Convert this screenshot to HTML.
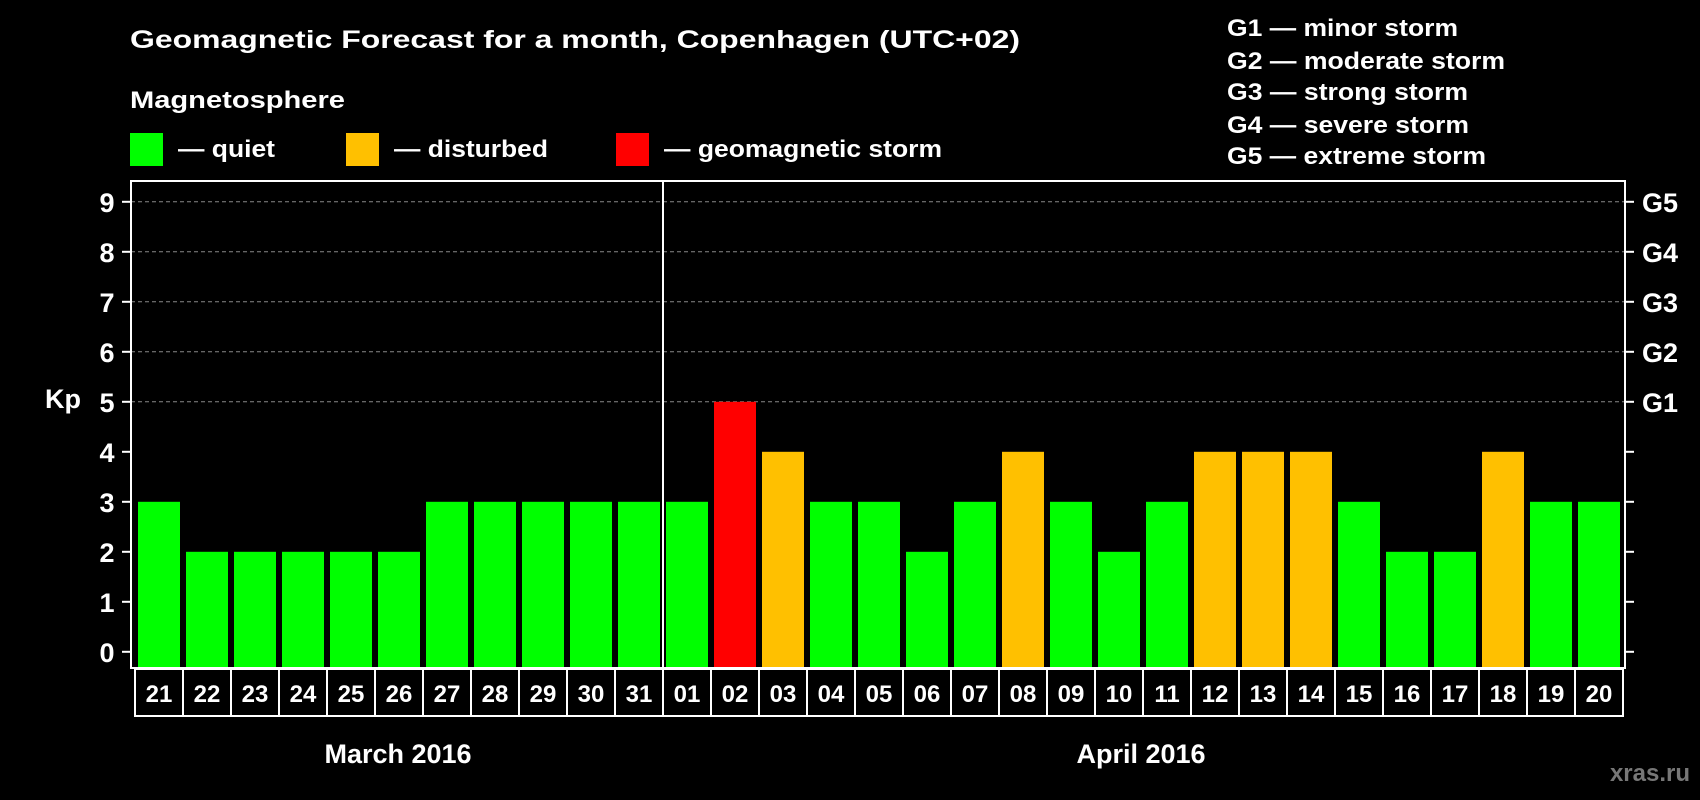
<!DOCTYPE html>
<html><head><meta charset="utf-8"><style>
html,body{margin:0;padding:0;background:#000;}
svg{display:block;font-family:"Liberation Sans",Arial,sans-serif;font-weight:bold;}
</style></head><body>
<svg id="chart" width="1700" height="800" viewBox="0 0 1700 800" xmlns="http://www.w3.org/2000/svg">
<rect x="0" y="0" width="1700" height="800" fill="#000"/>
<text x="130" y="48" fill="#fff" font-size="25" textLength="890" lengthAdjust="spacingAndGlyphs">Geomagnetic Forecast for a month, Copenhagen (UTC+02)</text>
<text x="130" y="108" fill="#fff" font-size="24" textLength="215" lengthAdjust="spacingAndGlyphs">Magnetosphere</text>
<g>
<rect x="130" y="133" width="33" height="33" fill="#00ff00"/>
<text x="178" y="157" fill="#fff" font-size="24" textLength="97" lengthAdjust="spacingAndGlyphs">— quiet</text></g>
<g>
<rect x="346" y="133" width="33" height="33" fill="#ffc000"/>
<text x="394" y="157" fill="#fff" font-size="24" textLength="154" lengthAdjust="spacingAndGlyphs">— disturbed</text></g>
<g>
<rect x="616" y="133" width="33" height="33" fill="#ff0000"/>
<text x="664" y="157" fill="#fff" font-size="24" textLength="278" lengthAdjust="spacingAndGlyphs">— geomagnetic storm</text></g>
<g fill="#fff" font-size="24">
<text x="1227" y="36" textLength="231" lengthAdjust="spacingAndGlyphs">G1 — minor storm</text>
<text x="1227" y="69" textLength="278" lengthAdjust="spacingAndGlyphs">G2 — moderate storm</text>
<text x="1227" y="100" textLength="241" lengthAdjust="spacingAndGlyphs">G3 — strong storm</text>
<text x="1227" y="133" textLength="242" lengthAdjust="spacingAndGlyphs">G4 — severe storm</text>
<text x="1227" y="164" textLength="259" lengthAdjust="spacingAndGlyphs">G5 — extreme storm</text>
</g>
<text x="63" y="408" fill="#fff" font-size="27" text-anchor="middle">Kp</text>
<g id="grid"></g><g id="bars"></g><g id="axes"></g>
<text x="398" y="763" fill="#fff" font-size="27" text-anchor="middle">March 2016</text>
<text x="1141" y="763" fill="#fff" font-size="27" text-anchor="middle">April 2016</text>
<text x="1690" y="781" fill="#777" font-size="24" text-anchor="end">xras.ru</text>
</svg>
<script>
const days = ["21","22","23","24","25","26","27","28","29","30","31","01","02","03","04","05","06","07","08","09","10","11","12","13","14","15","16","17","18","19","20"];
const kpValues = [3,2,2,2,2,2,3,3,3,3,3,3,5,4,3,3,2,3,4,3,2,3,4,4,4,3,2,2,4,3,3];
const yTicks = [0,1,2,3,4,5,6,7,8,9];
const gLabels = ["G1","G2","G3","G4","G5"];
const gLevels = [5,6,7,8,9];
const monthSplitIndex = 11;

const NS = "http://www.w3.org/2000/svg";
const boxL = 131, boxR = 1625, boxT = 181, boxB = 668;
const y0 = 651.8, unit = 50;
const pitch = 48, barStart = 138, barW = 42;
function yScale(v){ return y0 - v*unit; }
function xScale(i){ return barStart + i*pitch; }
function mk(tag, attrs, parent){
  const e = document.createElementNS(NS, tag);
  for (const k in attrs) e.setAttribute(k, attrs[k]);
  parent.appendChild(e); return e;
}
const grid = document.getElementById('grid');
const bars = document.getElementById('bars');
const axes = document.getElementById('axes');

gLevels.forEach((lv, i) => {
  const l = mk('line', {x1: boxL, x2: boxR, y1: yScale(lv), y2: yScale(lv), stroke: '#888', 'stroke-width': 1, 'stroke-dasharray': '4,3'}, grid);
  
  
  const t = mk('text', {x: 1642, y: yScale(lv) + 10, fill: '#fff', 'font-size': 27}, axes);
  t.textContent = gLabels[i];
  
  
});

kpValues.forEach((v, i) => {
  const color = v >= 5 ? '#ff0000' : (v >= 4 ? '#ffc000' : '#00ff00');
  const top = yScale(v);
  const r = mk('rect', {x: xScale(i), y: top, width: barW, height: boxB - top, fill: color}, bars);
  
  
  const cx = 135 + i*pitch;
  const c = mk('rect', {x: cx, y: 669, width: pitch, height: 47, fill: 'none', stroke: '#fff', 'stroke-width': 2}, axes);
  
  
  const t = mk('text', {x: cx + pitch/2, y: 702, fill: '#fff', 'font-size': 24, 'text-anchor': 'middle'}, axes);
  t.textContent = days[i];
  
  
});

yTicks.forEach(v => {
  const y = yScale(v);
  const tl = mk('line', {x1: 122, x2: boxL, y1: y, y2: y, stroke: '#fff', 'stroke-width': 2}, axes);
  
  
  const tr = mk('line', {x1: boxR, x2: 1634, y1: y, y2: y, stroke: '#fff', 'stroke-width': 2}, axes);
  
  
  const t = mk('text', {x: 107, y: y + 10, fill: '#fff', 'font-size': 27, 'text-anchor': 'middle'}, axes);
  t.textContent = v;
  
  
});

const box = mk('rect', {x: boxL, y: boxT, width: boxR - boxL, height: boxB - boxT, fill: 'none', stroke: '#fff', 'stroke-width': 2}, axes);


const divX = 135 + monthSplitIndex*pitch;
const dv = mk('line', {x1: divX, x2: divX, y1: boxT, y2: 716, stroke: '#fff', 'stroke-width': 2}, axes);


</script>
</body></html>
